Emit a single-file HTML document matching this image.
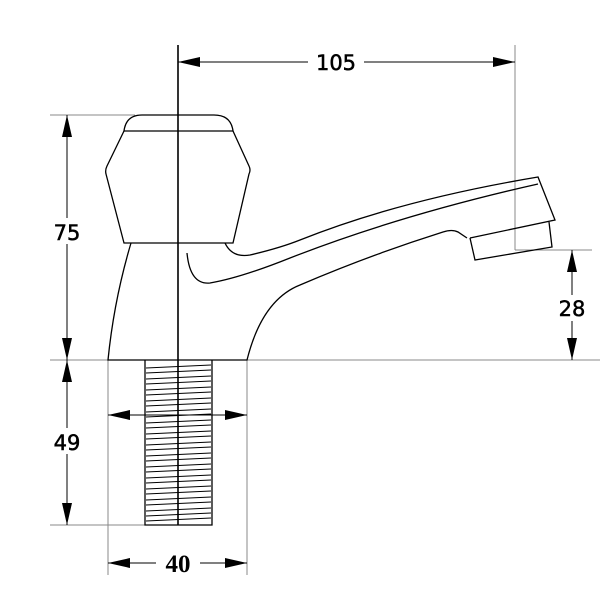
<!DOCTYPE html>
<html><head><style>body{margin:0;background:#fff}svg{display:block}</style></head><body>
<svg width="600" height="600" viewBox="0 0 600 600" xmlns="http://www.w3.org/2000/svg">
<defs>
<marker id="a" viewBox="0 0 22 10" refX="22" refY="5" markerWidth="22" markerHeight="10" markerUnits="userSpaceOnUse" orient="auto-start-reverse"><path d="M0,0L22,5L0,10z" fill="#000"/></marker>
</defs>
<g stroke="#888" stroke-width="1" fill="none">
<line x1="50" y1="115" x2="135" y2="115"/>
<line x1="50" y1="360" x2="600" y2="360"/>
<line x1="50" y1="525" x2="150" y2="525"/>
<line x1="515" y1="45" x2="515" y2="250"/>
<line x1="515" y1="250" x2="592" y2="250"/>
<line x1="108" y1="360" x2="108" y2="575"/>
<line x1="247" y1="360" x2="247" y2="575"/>
</g>
<g stroke="#000" stroke-width="1.3" fill="none">
<line x1="178" y1="45" x2="178" y2="525" stroke-width="1.6"/>
<path d="M124,131 Q126,115 142,115 L214,115 Q231,115 233,131 Z"/>
<path d="M124,131 L107,166 Q105,170 106,174 L124,243 L233,243 L249,174 Q251,170 249,166 L233,131"/>
<path d="M131,243 Q114,300 108,360 L247,360 Q262,300 300,285 Q370,255 443,232 Q452,229 458,232 L467,238"/>
<path d="M225,243 Q232,258 250,255 Q280,248 300,240 Q400,200 538,177 L555,220 L470,238"/>
<path d="M187,253 Q190,285 210,283 Q240,278 290,258 Q400,215 538,184"/>
<path d="M470,238 L475,260 L552,247 L549,222"/>
<path d="M145,360 L145,525 L212,525 L212,360"/>
</g>
<g stroke="#000" stroke-width="0.9" fill="none">
<path d="M146,368 L211,365 M146,373 L211,370 M146,379 L211,376 M146,384 L211,381 M146,390 L211,387 M146,395 L211,392 M146,401 L211,398 M146,406 L211,403 M146,412 L211,409 M146,417 L211,414 M146,423 L211,420 M146,428 L211,425 M146,434 L211,431 M146,439 L211,436 M146,445 L211,442 M146,450 L211,447 M146,456 L211,453 M146,461 L211,458 M146,467 L211,464 M146,472 L211,469 M146,478 L211,475 M146,483 L211,480 M146,489 L211,486 M146,494 L211,491 M146,500 L211,497 M146,505 L211,502 M146,511 L211,508 M146,516 L211,513 M146,521 L211,518"/>
</g>
<g stroke="#000" stroke-width="1" fill="none">
<line x1="178" y1="62" x2="515" y2="62" marker-start="url(#a)" marker-end="url(#a)"/>
<line x1="67" y1="115" x2="67" y2="360" marker-start="url(#a)" marker-end="url(#a)"/>
<line x1="67" y1="360" x2="67" y2="525" marker-start="url(#a)" marker-end="url(#a)"/>
<line x1="572" y1="250" x2="572" y2="360" marker-start="url(#a)" marker-end="url(#a)"/>
<line x1="108" y1="415" x2="247" y2="415" marker-start="url(#a)" marker-end="url(#a)"/>
<line x1="108" y1="563" x2="247" y2="563" marker-start="url(#a)" marker-end="url(#a)"/>
</g>
<g font-family="DejaVu Sans, sans-serif" font-size="21" fill="#000" stroke="#000" stroke-width="0.5" text-anchor="middle">
<rect x="308" y="50" width="56" height="24" fill="#fff" stroke="none"/>
<text x="336" y="70">105</text>
<rect x="50" y="218" width="34" height="26" fill="#fff" stroke="none"/>
<text x="67" y="240">75</text>
<rect x="50" y="428" width="34" height="26" fill="#fff" stroke="none"/>
<text x="67" y="450">49</text>
<rect x="555" y="295" width="34" height="26" fill="#fff" stroke="none"/>
<text x="572" y="316">28</text>
<rect x="156" y="550" width="44" height="26" fill="#fff" stroke="none"/>
<text x="178" y="572" font-family="Liberation Serif, serif" font-weight="bold" font-size="25" stroke="none">40</text>
</g>
</svg>
</body></html>
